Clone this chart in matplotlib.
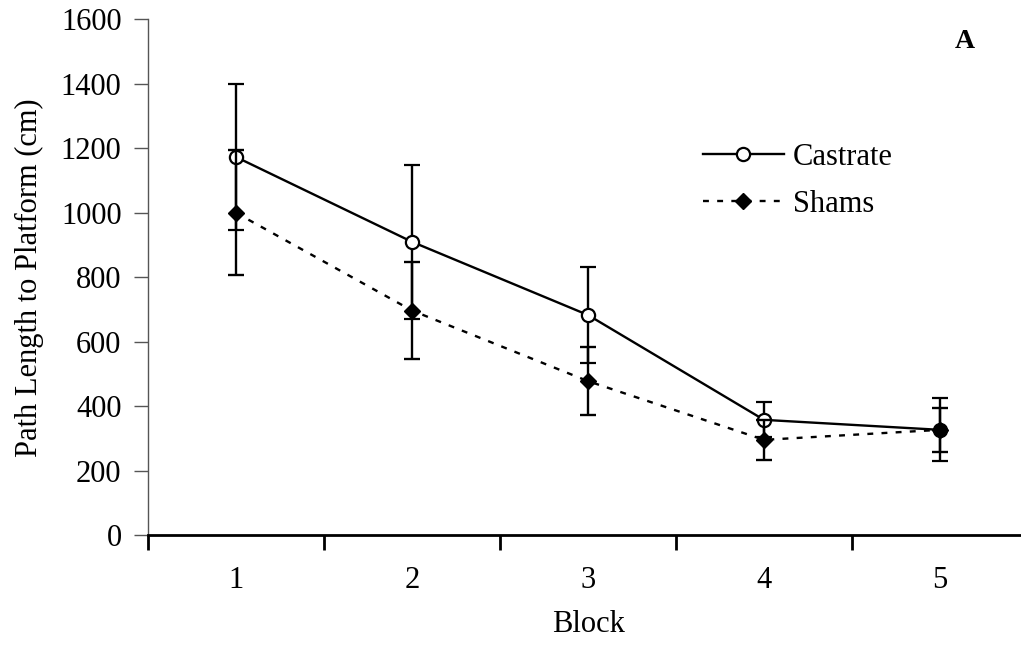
import matplotlib.pyplot as plt
import numpy as np

# values
blocks = [1, 2, 3, 4, 5]
block_labels = ["1", "2", "3", "4", "5"]
castrate_mean = [1173, 910, 683, 358, 327]
castrate_err = [226, 238, 150, 54, 98]
shams_mean = [1000, 697, 478, 296, 327]
shams_err = [194, 149, 105, 62, 69]

plt.rcParams['font.family'] = ['Liberation Serif', 'DejaVu Serif']
plt.rcParams['font.size'] = 22

W, H = 1021, 652
fig = plt.figure(figsize=(W / 100, H / 100), dpi=100)
# axes placed by pixels: left spine x=148, y=0 at 535, y=1600 at 19
ax = fig.add_axes([148 / W, (H - 535.3) / H, 880 / W, 516 / H])

# Castrate: solid line, open circles
ax.errorbar(blocks, castrate_mean, yerr=castrate_err, color='black', lw=1.7,
            elinewidth=1.7, capsize=6, capthick=1.7, marker='o', ms=9.5,
            mfc='white', mec='black', mew=1.6, label='Castrate', zorder=3)
# Shams: dotted line, filled diamonds
ax.errorbar(blocks, shams_mean, yerr=shams_err, color='black', lw=1.7,
            ls=(0, (2.5, 3.5)), elinewidth=1.7, capsize=6, capthick=1.7,
            marker='D', ms=8, mfc='black', mec='black', label='Shams', zorder=4)

ax.set_xlim(0.5, 5.5)
ax.set_ylim(0, 1600)
ax.set_yticks(np.arange(0, 1601, 200))

# category axis: tick marks between blocks, labels at the centres
ax.set_xticks(np.arange(0.5, 5.6, 1.0))
ax.set_xticklabels([])
ax.set_xticks(blocks, minor=True)
ax.set_xticklabels(block_labels, minor=True)
ax.tick_params(axis='x', which='major', direction='out', length=11, width=2)
ax.tick_params(axis='x', which='minor', length=0, pad=22)
ax.tick_params(axis='y', direction='out', length=10, width=1, color='#555555', pad=9)

ax.spines['top'].set_visible(False)
ax.spines['right'].set_visible(False)
ax.spines['left'].set_color('#555555')
ax.spines['left'].set_linewidth(1)
ax.spines['bottom'].set_linewidth(2)

ax.set_xlabel("Block", labelpad=11)
ax.set_ylabel("Path Length to Platform (cm)")
ax.yaxis.set_label_coords(-0.118, 0.5)

# legend handles: drop the error bar glyphs
handles, labels = ax.get_legend_handles_labels()
handles = [h[0] for h in handles]
ax.legend(handles, labels, loc='upper left', bbox_to_anchor=(0.613, 0.79),
          frameon=False, borderpad=0, handlelength=2.65, handletextpad=0.3,
          labelspacing=0.58)

fig.text(965 / W, 1 - 42 / H, "A", fontweight='bold', fontsize=20,
         ha='center', va='center')

fig.savefig("out.png", dpi=100)
